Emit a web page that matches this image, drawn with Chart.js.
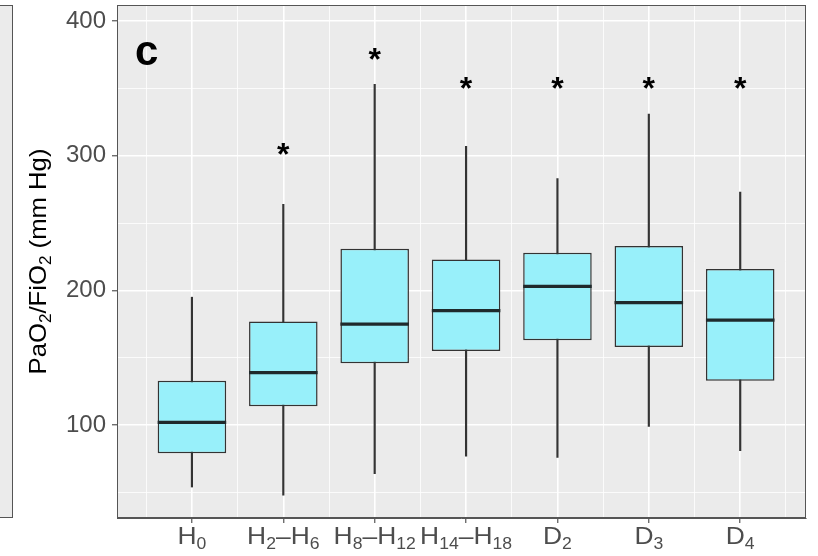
<!DOCTYPE html>
<html>
<head>
<meta charset="utf-8">
<script src="https://cdn.jsdelivr.net/npm/chart.js@4.4.1/dist/chart.umd.min.js"></script>
<style>
  body { margin: 0; background: #fff; }
  #wrap { position: relative; width: 818px; height: 556px; }
  /* edge of the neighbouring panel */
  #prev { position: absolute; left: -1px; top: 5px; width: 12px; height: 511px; background: #ebebeb; border: 1px solid #555; }
  canvas { position: absolute; left: 0; top: 0; }
</style>
</head>
<body>
<div id="wrap"><div id="prev"></div><canvas id="c" width="818" height="556"></canvas></div>
<script>
const categories = ["H0", "H2–H6", "H8–H12", "H14–H18", "D2", "D3", "D4"];
const whiskerLow = [54, 48, 64, 77, 76, 99, 81];
const q1 = [79, 114, 146, 155, 163, 158, 133];
const median = [102, 139, 175, 185, 203, 191, 178];
const q3 = [133, 177, 231, 223, 228, 233, 216];
const whiskerHigh = [195, 264, 353, 307, 283, 331, 273];
// significance marks (null = none)
const starAt = [null, 307, 377, 356, 356, 356, 356];
const yTicks = [100, 200, 300, 400];
const yGrid = [50, 100, 150, 200, 250, 300, 350, 400];
const yTitle = "PaO2/FiO2 (mm Hg)";

const FONT = '"Liberation Sans", Arial, Helvetica, sans-serif';
const INK = "#333333";
const BOX_W = 0.75;

// digits are set as subscripts: "H2–H6" -> H₂–H₆
function parts(text) {
  return text.match(/\d+|\D+/g).map(s => ({ s, sub: /^\d+$/.test(s) }));
}

// centred at x, baseline at y; stretch widens the run a little
function drawSub(ctx, text, x, y, size, color, stretch) {
  const ps = parts(text);
  const subSize = Math.round(size * 0.68);
  let w = 0;
  ps.forEach(p => {
    ctx.font = (p.sub ? subSize : size) + "px " + FONT;
    p.w = ctx.measureText(p.s).width;
    w += p.w;
  });
  ctx.save();
  ctx.translate(x, y);
  ctx.scale(stretch || 1, 1);
  let cx = -w / 2;
  ctx.fillStyle = color;
  ctx.textAlign = "left";
  ctx.textBaseline = "alphabetic";
  ps.forEach(p => {
    ctx.font = (p.sub ? subSize : size) + "px " + FONT;
    ctx.fillText(p.s, cx, p.sub ? size * 0.22 : 0);
    cx += p.w;
  });
  ctx.restore();
}

const panelPlugin = {
  id: "panel",
  beforeDraw(chart) {
    const { ctx, chartArea: a } = chart;
    ctx.save();
    ctx.fillStyle = "#ebebeb";
    ctx.fillRect(a.left, a.top, a.right - a.left, a.bottom - a.top);
    ctx.restore();
  },
  afterDraw(chart) {
    const { ctx, chartArea: a, scales } = chart;
    const x = scales.x, y = scales.y;
    ctx.save();

    // stars above the groups
    ctx.fillStyle = "#000";
    ctx.textAlign = "center";
    ctx.textBaseline = "alphabetic";
    ctx.font = "bold 32px " + FONT;
    starAt.forEach((v, i) => {
      if (v == null) return;
      ctx.fillText("*", x.getPixelForValue(i), y.getPixelForValue(v) + 32 * 0.57);
    });

    // panel tag
    ctx.textAlign = "left";
    ctx.font = "bold 42px " + FONT;
    ctx.fillText("c", a.left + 18, a.top + 60);

    // category labels
    categories.forEach((c, i) => drawSub(ctx, c, x.getPixelForValue(i), 544, 24, "#4d4d4d", 1.1));

    // y title
    ctx.translate(46, (a.top + a.bottom) / 2);
    ctx.rotate(-Math.PI / 2);
    drawSub(ctx, yTitle, 0, 0, 24, "#000", 1.07);
    ctx.setTransform(1, 0, 0, 1, 0, 0);

    // panel border
    ctx.strokeStyle = "#555";
    ctx.lineWidth = 1;
    ctx.strokeRect(a.left + 0.5, a.top + 0.5, a.right - a.left - 1, a.bottom - a.top - 1);
    ctx.restore();
  }
};

const xMajor = categories.map((c, i) => i);
const xMinor = [-0.5, ...categories.map((c, i) => i + 0.5)];

new Chart(document.getElementById("c"), {
  data: {
    datasets: [
      {
        type: "line",
        order: 1,
        data: categories.flatMap((c, i) => [
          { x: i - BOX_W / 2, y: median[i] },
          { x: i + BOX_W / 2, y: median[i] },
          { x: i, y: null }
        ]),
        borderColor: "#1f2a2c",
        borderWidth: 3.2,
        pointRadius: 0,
        spanGaps: false
      },
      {
        type: "bar",
        order: 2,
        grouped: false,
        data: categories.map((c, i) => ({ x: i, y: [q1[i], q3[i]] })),
        backgroundColor: "#98f0fa",
        borderColor: INK,
        borderWidth: 1.5,
        borderSkipped: false,
        barPercentage: BOX_W,
        categoryPercentage: 1
      },
      {
        type: "bar",
        order: 3,
        grouped: false,
        data: categories.map((c, i) => ({ x: i, y: [whiskerLow[i], whiskerHigh[i]] })),
        backgroundColor: INK,
        barThickness: 1.5
      }
    ]
  },
  options: {
    responsive: false,
    animation: false,
    devicePixelRatio: 1,
    layout: { padding: { left: 0, top: 5, right: 12, bottom: 0 } },
    plugins: { legend: { display: false }, tooltip: { enabled: false } },
    scales: {
      x: {
        type: "linear",
        min: -0.82,
        max: 6.72,
        offset: false,
        afterBuildTicks: s => { s.ticks = xMajor.map(v => ({ value: v })); },
        afterFit: s => { s.height = 38; s.paddingLeft = 0; s.paddingRight = 0; },
        ticks: { display: false },
        grid: { offset: false, color: "#ffffff", lineWidth: 1.6, tickColor: INK, tickLength: 5, tickWidth: 1 },
        border: { display: true, color: "#555", width: 1 }
      },
      xMinor: {
        type: "linear",
        position: "bottom",
        min: -0.82,
        max: 6.72,
        offset: false,
        afterBuildTicks: s => { s.ticks = xMinor.map(v => ({ value: v })); },
        afterFit: s => { s.height = 0; s.paddingLeft = 0; s.paddingRight = 0; },
        ticks: { display: false },
        grid: { offset: false, color: "#ffffff", lineWidth: 0.8, drawTicks: false },
        border: { display: false }
      },
      y: {
        type: "linear",
        min: 31,
        max: 412,
        afterBuildTicks: s => { s.ticks = yGrid.map(v => ({ value: v })); },
        afterFit: s => { s.width = 117; s.paddingTop = 0; s.paddingBottom = 0; },
        ticks: {
          padding: 6,
          color: "#4d4d4d",
          font: { family: FONT, size: 24 },
          callback: v => (yTicks.includes(v) ? v : "")
        },
        grid: {
          color: "#ffffff",
          lineWidth: c => (yTicks.includes(c.tick.value) ? 1.6 : 0.8),
          tickColor: c => (yTicks.includes(c.tick.value) ? INK : "rgba(0,0,0,0)"),
          tickLength: 5,
          tickWidth: 1
        },
        border: { display: true, color: "#555", width: 1 }
      }
    }
  },
  plugins: [panelPlugin]
});
</script>
</body>
</html>
